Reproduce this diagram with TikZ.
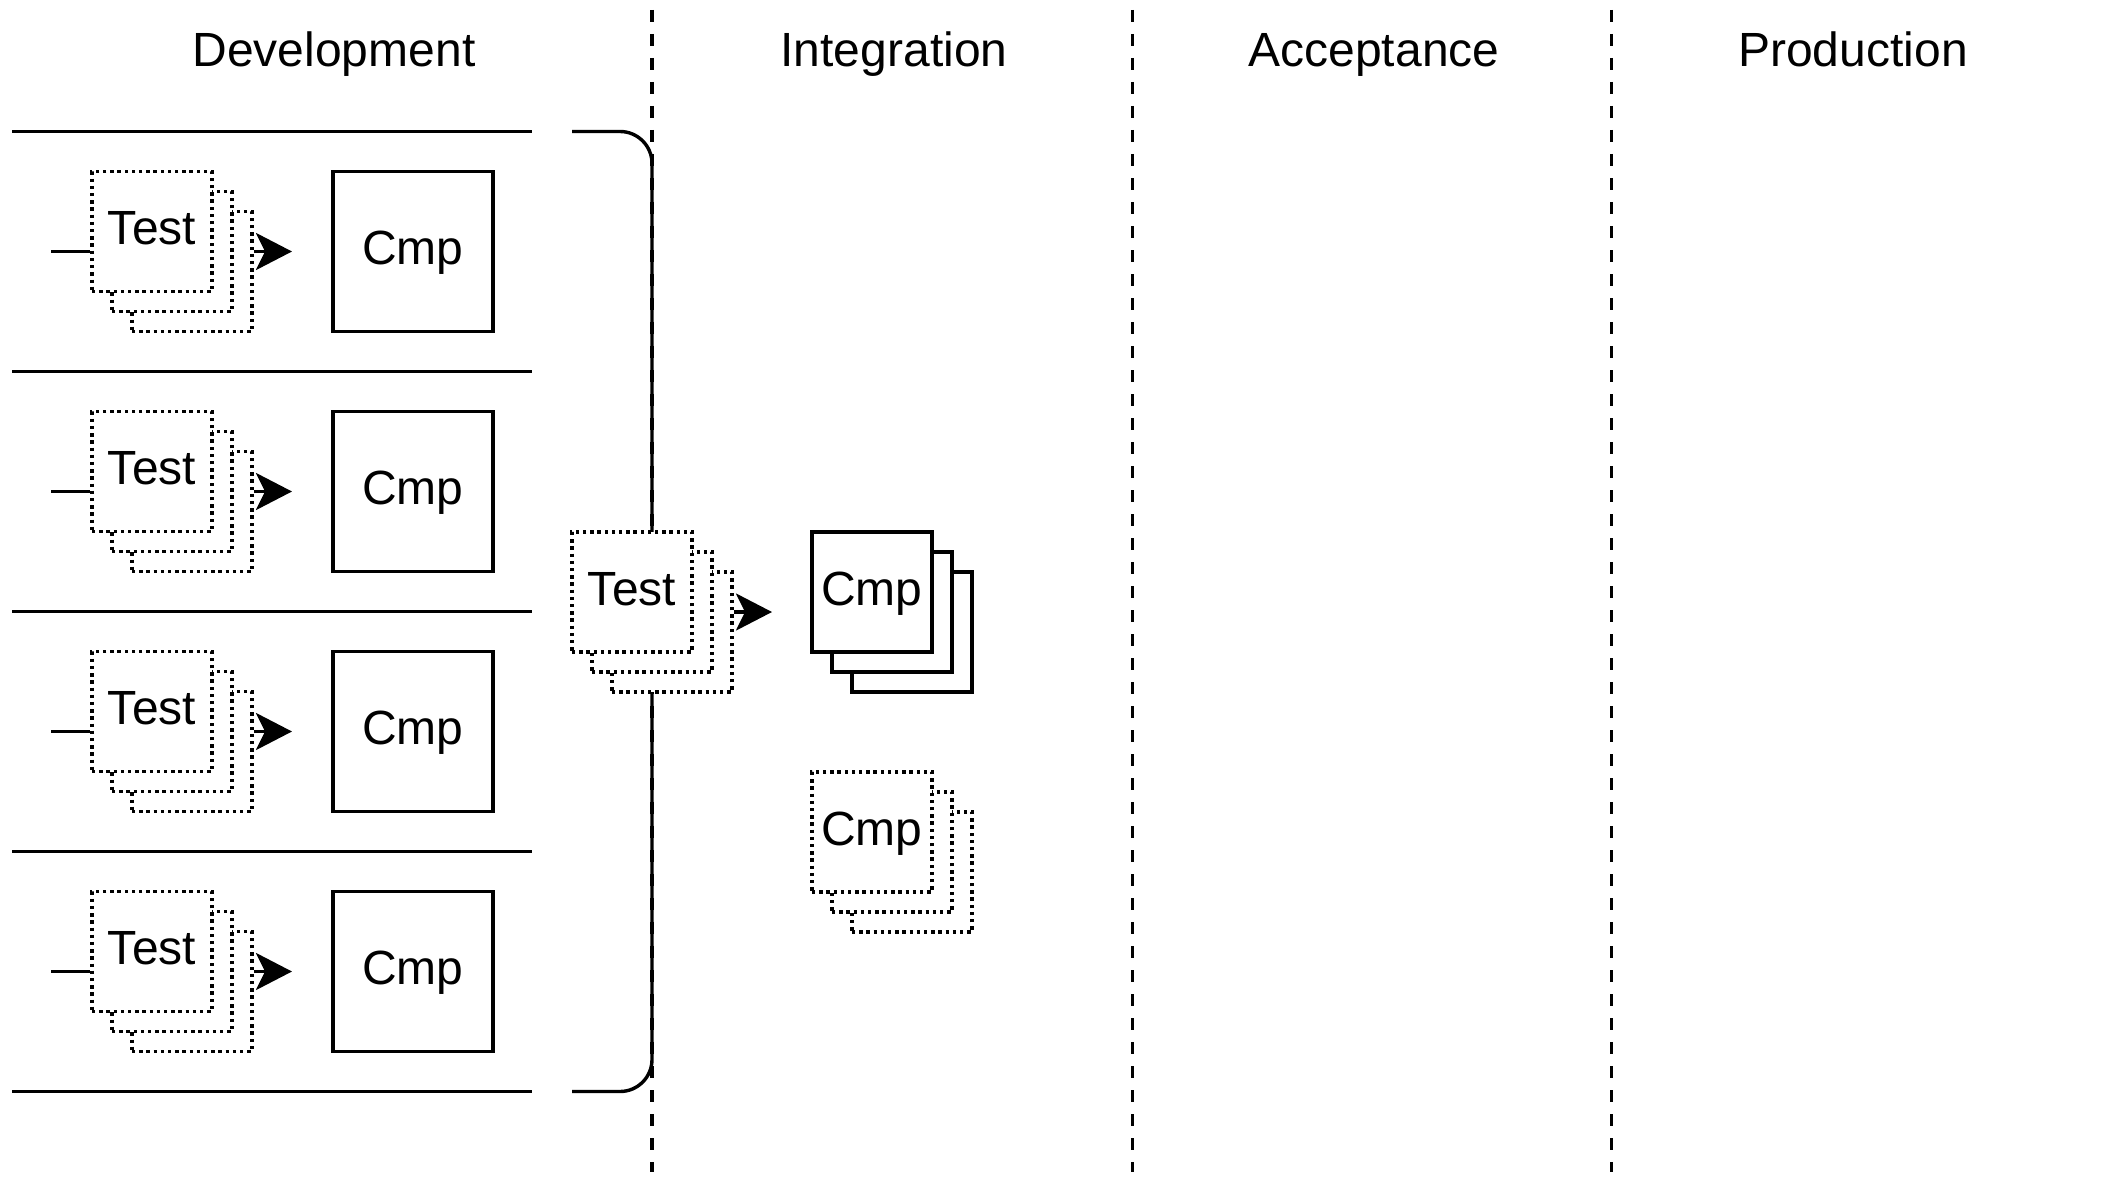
\documentclass[tikz,border=0pt]{standalone}
\usepackage{fontspec}
\setmainfont{Liberation Sans}
\usetikzlibrary{arrows.meta}
\begin{document}
\begin{tikzpicture}[x=1pt,y=-1pt,
  lw/.style={line width=3.4pt},
  txt/.style={font=\fontsize{48}{56}\selectfont},
  boxtxt/.style={txt, text height=34pt, text depth=8pt},
  dotbox/.style={draw, lw, dash pattern=on 3.4pt off 3.8pt, fill=white, minimum width=120pt, minimum height=120pt, inner sep=0pt, boxtxt},
  solidbox/.style={draw, lw, fill=white, minimum width=120pt, minimum height=120pt, inner sep=0pt, boxtxt},
  bigbox/.style={solidbox, minimum width=160pt, minimum height=160pt},
  sepline/.style={lw, dash pattern=on 12pt off 12pt},
  arr/.style={lw, -{Stealth[length=36pt, width=37pt, inset=9pt]}},
]
\useasboundingbox (0,0) rectangle (2104,1188);

% headers
\node[txt, anchor=base] (hdev) at (334,66.5) {Development};
\node[txt, anchor=base] (hint) at (894,66.5) {Integration};
\node[txt, anchor=base] (hacc) at (1374,66.5) {Acceptance};
\node[txt, anchor=base] (hprod) at (1853,66.5) {Production};

% column separators
\foreach \x [count=\i] in {652,1132.5,1611.5} {
  \coordinate (sT\i) at (\x,10);
  \coordinate (sB\i) at (\x,1172);
  \draw[sepline] (sT\i) -- (sB\i);
}

% horizontal lane lines
\foreach \k in {0,...,4} {
  \coordinate (hL\k) at (12,131.5+240*\k);
  \coordinate (hR\k) at (532,131.5+240*\k);
  \draw[lw] (hL\k) -- (hR\k);
}

% bracket
\coordinate (b1) at (572,131.5);
\coordinate (b2) at (652,131.5);
\coordinate (b3) at (652,1091.5);
\coordinate (b4) at (572,1091.5);
\draw[lw, rounded corners=32pt] (b1) -- (b2) -- (b3) -- (b4);

% rows
\foreach \r in {0,1,2,3} {
  \pgfmathsetmacro\c{251.5+240*\r}
  \node[dotbox] (tb\r) at (192,\c+20) {};
  \node[dotbox] (tm\r) at (172,\c) {};
  \node[dotbox] (tf\r) at (152,\c-20) {Test};
  \node[bigbox] (cmp\r) at (413,\c) {Cmp};
  \coordinate (in\r) at (51,\c);
  \coordinate (tip\r) at (292,\c);
  \draw[lw] (in\r) -- (in\r -| tf\r.west);
  \draw[arr] (tm\r.center -| tb\r.east) -- (tip\r);
}

% integration test stack
\node[dotbox] (itb) at (672,632) {};
\node[dotbox] (itm) at (652,612) {};
\node[dotbox] (itf) at (632,592) {Test};
\coordinate (itip) at (772,612);
\draw[arr] (itm.center -| itb.east) -- (itip);

% solid cmp stack
\node[solidbox] (icb) at (912,632) {};
\node[solidbox] (icm) at (892,612) {};
\node[solidbox] (icf) at (872,592) {Cmp};

% dotted cmp stack
\node[dotbox] (dcb) at (912,872) {};
\node[dotbox] (dcm) at (892,852) {};
\node[dotbox] (dcf) at (872,832) {Cmp};
\end{tikzpicture}
\end{document}
